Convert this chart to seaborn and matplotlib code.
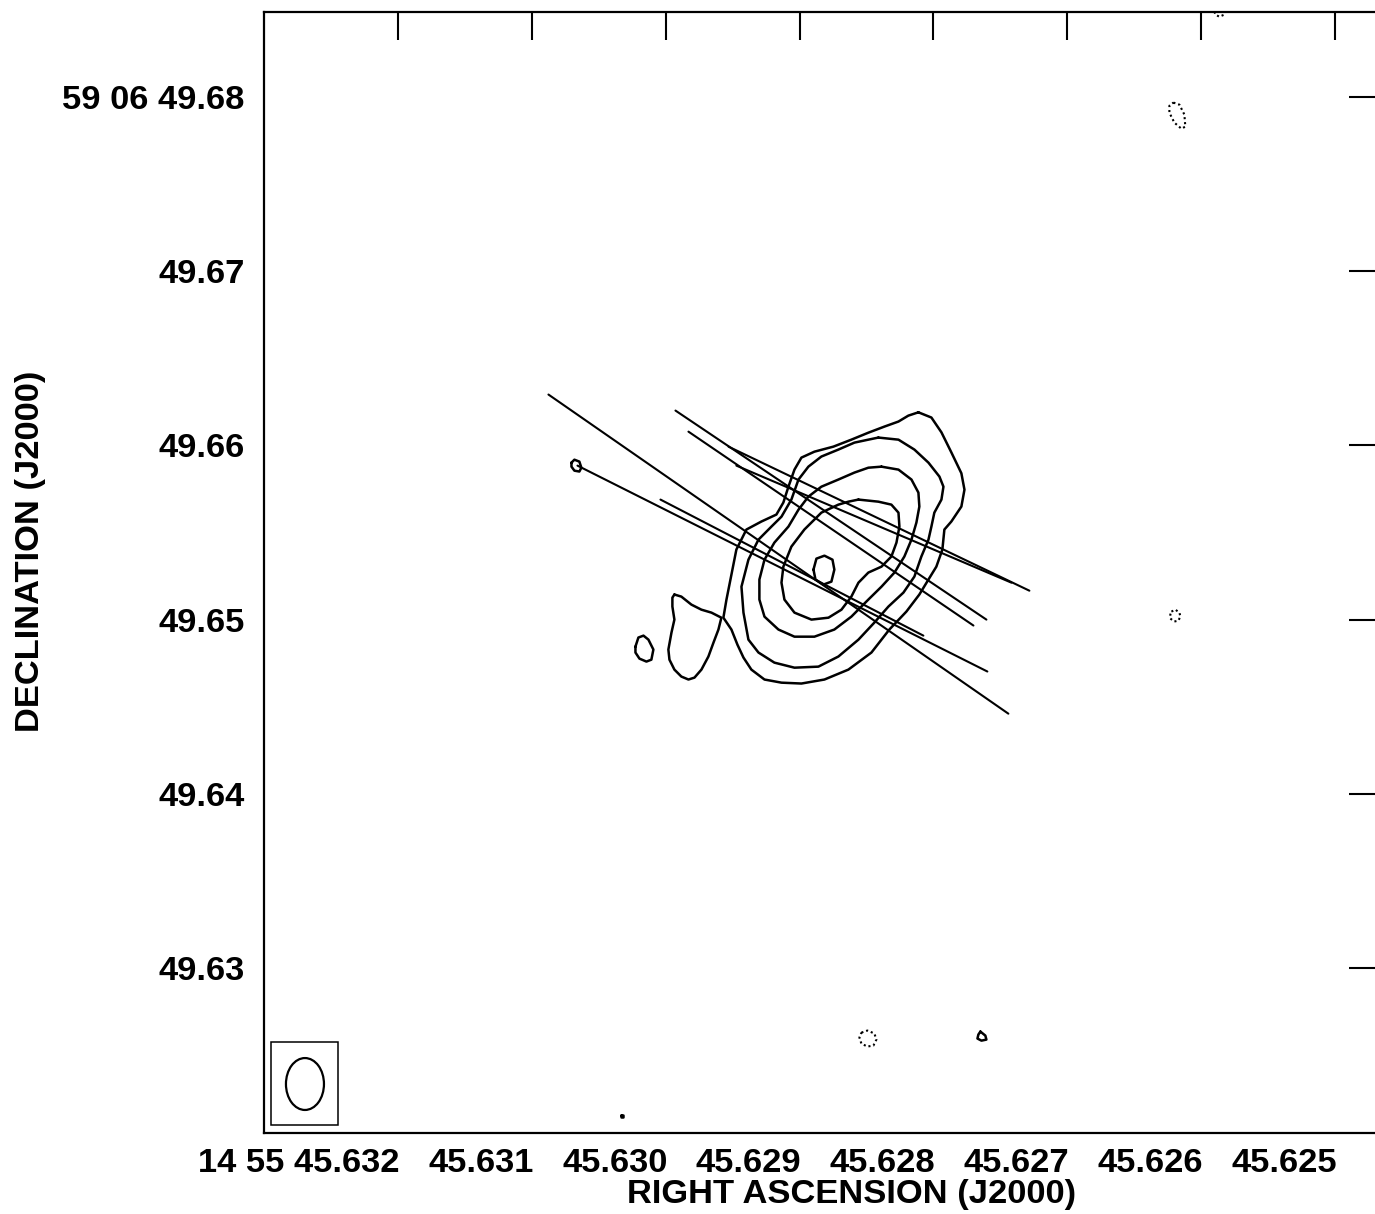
import numpy as np
import pandas as pd
import matplotlib
matplotlib.use("Agg")
import matplotlib.pyplot as plt
import matplotlib.transforms as mtransforms
from matplotlib.patches import Ellipse, Rectangle
import seaborn as sns

# ---------------- data ----------------
RA0 = 45.628      # reference RA seconds (14 55 45.628)
DEC0 = 49.65      # reference Dec arcsec (59 06 49.65)
# offsets: RA in micro-seconds of time, Dec in milli-arcseconds

# positive (solid) contours
c1_ra = [112, 15, -60, -134, -209, -232, -209, -134, -82, -67, -22, 37, 105, 202, 329, 463, 635, 814, 986, 1135,
         1262, 1360, 1419, 1464, 1509, 1569, 1546, 1509, 1472, 1397, 1285, 1173, 1121, 1083, 1038, 986, 889, 747,
         613, 486, 366, 261, 187]
c1_dec = [11.9, 11.6, 10.75, 9.6, 8.4, 7.46, 6.49, 5.63, 5.17, 4.02, 3.04, 2.3, 1.44, 0.46, -0.57, -1.89, -2.87,
          -3.44, -3.67, -3.62, -3.44, -2.87, -2.18, -1.44, -0.57, 0.11, 1.15, 2.58, 4.02, 5.17, 5.63, 6.03, 6.72,
          7.63, 8.61, 9.3, 9.64, 9.93, 10.33, 10.73, 11.08, 11.37, 11.71]

c2_ra = [411, 261, 142, 37, -45, -75, -60, -7, 15, 37, 90, 142, 224, 336, 441, 560, 710, 859, 1038, 1188, 1307,
         1382, 1419, 1434, 1382, 1307, 1210, 1135, 1061, 1008, 934, 837, 710, 590, 486]
c2_dec = [10.45, 10.33, 9.76, 9.01, 8.21, 7.63, 6.89, 6.14, 5.34, 4.59, 3.62, 2.47, 1.55, 0.75, -0.17, -1.15,
          -2.12, -2.70, -2.76, -2.47, -1.89, -1.15, 0.40, 1.89, 3.44, 4.59, 5.34, 5.91, 6.89, 8.04, 8.78, 9.36,
          9.76, 10.16, 10.33]

c3_ra = [388, 261, 164, 112, 105, 127, 164, 217, 291, 388, 486, 613, 740, 889, 1038, 1158, 1262, 1300, 1300,
         1262, 1188, 1083, 1008, 934, 837, 710, 590, 486]
c3_dec = [8.78, 8.61, 8.04, 7.29, 6.49, 5.57, 4.59, 3.62, 2.70, 1.89, 1.15, 0.17, -0.57, -0.98, -0.98, -0.57,
          0.17, 1.15, 2.30, 3.44, 4.42, 5.34, 6.31, 7.06, 7.63, 8.04, 8.44, 8.72]

c4_ra = [560, 411, 314, 261, 254, 276, 314, 388, 486, 560, 613, 687, 784, 911, 1038, 1113, 1135, 1121, 1061,
         964, 837, 710, 635]
c4_dec = [6.89, 6.77, 6.60, 6.14, 5.34, 4.42, 3.62, 3.04, 2.70, 2.12, 1.32, 0.57, 0.11, 0.00, 0.40, 1.15, 2.12,
          3.04, 4.19, 5.17, 6.14, 6.60, 6.77]

c5_ra = [896, 874, 814, 754, 740, 762, 822, 881]
c5_dec = [2.87, 3.50, 3.67, 3.44, 2.87, 2.18, 2.01, 2.30]

islandA_ra = [1935, 1883, 1808, 1733, 1658, 1584, 1606, 1643, 1681, 1733, 1785, 1830, 1883, 1935, 1972, 1980,
              1957, 1935, 1950, 1950]
islandA_dec = [1.44, 1.32, 0.86, 0.57, 0.40, 0.11, -0.57, -1.32, -2.12, -2.87, -3.33, -3.44, -3.27, -2.87,
               -2.30, -1.72, -0.75, 0.00, 0.75, 1.26]

islandB_ra = [2226, 2204, 2166, 2129, 2092, 2107, 2144, 2196, 2226]
islandB_dec = [-1.55, -1.03, -0.92, -1.15, -1.72, -2.30, -2.41, -2.24, -1.89]

knotW_ra = [2704, 2682, 2645, 2630, 2645, 2682, 2704]
knotW_dec = [9.01, 9.18, 9.07, 8.72, 8.50, 8.55, 8.78]

spotS_ra = [-351, -388, -396, -359, -329, -336]
spotS_dec = [-23.65, -23.88, -24.11, -24.17, -24.05, -23.82]

dotSW_ra = [2331, 2316, 2316, 2331]
dotSW_dec = [-28.41, -28.41, -28.53, -28.53]

# negative (dotted) contours
negNE_ra = [-1793, -1838, -1875, -1882, -1853, -1800, -1763, -1763]
negNE_dec = [29.68, 29.56, 28.99, 28.30, 28.18, 28.53, 29.10, 29.50]

negTop_ra = [-2099, -2107, -2136, -2174, -2181, -2166, -2122]
negTop_dec = [34.90, 34.73, 34.61, 34.73, 34.90, 35.13, 35.13]

negE_ra = [-1778, -1808, -1838, -1845, -1830, -1800, -1770, -1770]
negE_dec = [0.46, 0.57, 0.40, 0.17, -0.06, -0.11, 0.06, 0.29]

negS_ra = [538, 493, 441, 426, 448, 493, 538, 553]
negS_dec = [-23.71, -23.59, -23.76, -24.11, -24.45, -24.51, -24.34, -23.99]

# polarisation / vector segments (start and end offsets)
vec_ra0 = [2876, 1927, 1830, 1531, 1472, 2659, 2039]
vec_dec0 = [12.92, 12.00, 10.79, 9.93, 8.84, 8.84, 6.89]
vec_ra1 = [-560, -396, -299, -717, -583, -403, 75]
vec_dec1 = [-5.40, 0.00, -0.34, 1.66, 2.12, -2.98, -0.92]

# restoring beam (full widths)
beam_ra_us = 284.0
beam_dec_mas = 2.98
beam_pa = 0.0

# axis ticks
xtick_vals = [45.632, 45.631, 45.630, 45.629, 45.628, 45.627, 45.626, 45.625]
xtick_labels = ["14 55 45.632", "45.631", "45.630", "45.629", "45.628", "45.627", "45.626", "45.625"]
ytick_vals = [49.68, 49.67, 49.66, 49.65, 49.64, 49.63]
ytick_labels = ["59 06 49.68", "49.67", "49.66", "49.65", "49.64", "49.63"]
x_title = "RIGHT ASCENSION (J2000)"
y_title = "DECLINATION (J2000)"


def build(pieces, closed=True):
    rows = []
    for i, (ra, de) in enumerate(pieces):
        ra = list(ra)
        de = list(de)
        if closed:
            ra = ra + [ra[0]]
            de = de + [de[0]]
        for a, d in zip(ra, de):
            rows.append((i, RA0 + a * 1e-6, DEC0 + d * 1e-3))
    return pd.DataFrame(rows, columns=["piece", "ra", "dec"])


pos_df = build([(c1_ra, c1_dec), (c2_ra, c2_dec), (c3_ra, c3_dec), (c4_ra, c4_dec), (c5_ra, c5_dec),
                (islandA_ra, islandA_dec), (islandB_ra, islandB_dec), (knotW_ra, knotW_dec),
                (spotS_ra, spotS_dec), (dotSW_ra, dotSW_dec)])
neg_df = build([(negNE_ra, negNE_dec), (negTop_ra, negTop_dec), (negE_ra, negE_dec), (negS_ra, negS_dec)])
vec_df = build([([a0, a1], [d0, d1]) for a0, a1, d0, d1 in zip(vec_ra0, vec_ra1, vec_dec0, vec_dec1)],
               closed=False)

# ---------------- style ----------------
sns.set_theme(style="white", rc={"axes.edgecolor": "black", "axes.linewidth": 1.6,
                                 "text.color": "black", "axes.labelcolor": "black",
                                 "xtick.color": "black", "ytick.color": "black"})
plt.rcParams["font.family"] = ["Liberation Sans", "DejaVu Sans"]
plt.rcParams["font.weight"] = "bold"

fig = plt.figure(figsize=(13.75, 12.14), dpi=100)
ax = fig.add_axes([264 / 1375, (1214 - 1133) / 1214, (1377 - 264) / 1375, (1133 - 12) / 1214])

common = dict(x="ra", y="dec", units="piece", estimator=None, sort=False, color="black", ax=ax, legend=False)
sns.lineplot(data=pos_df, linewidth=1.8, solid_joinstyle="round", solid_capstyle="round", **common)
sns.lineplot(data=neg_df, linewidth=1.5, linestyle=(0, (1.0, 1.4)), **common)
sns.lineplot(data=vec_df, linewidth=1.5, **common)

xlim = (45.633001, 45.624686)
ylim = (49.620528, 49.68488)
ax.set_xlim(*xlim)
ax.set_ylim(*ylim)

# beam
bx = xlim[0] + 0.0368 * (xlim[1] - xlim[0])
by = ylim[0] + 0.0437 * (ylim[1] - ylim[0])
ax.add_patch(Ellipse((bx, by), width=beam_ra_us * 1e-6, height=beam_dec_mas * 1e-3, angle=beam_pa,
                     fill=False, edgecolor="black", linewidth=1.6))
ax.add_patch(Rectangle((7 / 1113, 8 / 1121), 67 / 1113, 83 / 1121, transform=ax.transAxes,
                       fill=False, edgecolor="black", linewidth=1.1))

ax.set_xticks(xtick_vals)
ax.set_xticklabels(xtick_labels)
ax.set_yticks(ytick_vals)
ax.set_yticklabels(ytick_labels)
ax.tick_params(axis="both", which="major", direction="in", length=20, width=1.5, color="black",
               top=True, right=True, labeltop=False, labelright=False, labelsize=24.8, labelcolor="black")
ax.tick_params(axis="x", pad=10.5)
ax.tick_params(axis="y", pad=14)
shift = mtransforms.ScaledTranslation(2 / 100, 0, fig.dpi_scale_trans)
for lab in ax.get_xticklabels():
    lab.set_horizontalalignment("right")
    lab.set_transform(lab.get_transform() + shift)
    lab.set_fontweight("bold")
for lab in ax.get_yticklabels():
    lab.set_fontweight("bold")
ax.set_xlabel("")
ax.set_ylabel("")
for s in ax.spines.values():
    s.set_linewidth(1.6)
    s.set_color("black")

fig.text(852 / 1375, 1 - 1195 / 1214, x_title, ha="center", va="center", fontsize=24.8,
         fontweight="bold", color="black")
fig.text(31 / 1375, 1 - 551.5 / 1214, y_title, ha="center", va="center", rotation=90,
         fontsize=24.8, fontweight="bold", color="black")

fig.savefig("out.png", dpi=100, facecolor="white")
